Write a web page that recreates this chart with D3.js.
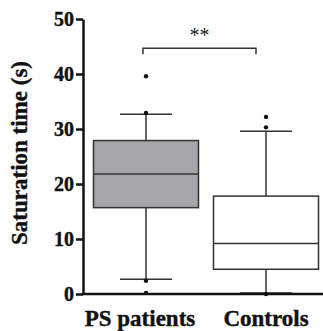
<!DOCTYPE html>
<html>
<head>
<meta charset="utf-8">
<script src="https://cdn.jsdelivr.net/npm/d3@7"></script>
<style>
  body { margin: 0; background: #fff; }
  svg { display: block; }
</style>
</head>
<body>
<div id="chart"></div>
<script>
// data
const groups = ["PS patients", "Controls"];
const whiskerLow = [2.7, 0.2];
const q1 = [15.7, 4.5];
const median = [21.8, 9.2];
const q3 = [27.9, 17.8];
const whiskerHigh = [32.7, 29.6];
const outliers = [[39.6, 32.9, 2.4, 0.2], [32.2, 30.3, 0]];
const boxFills = ["#a6a6aa", "#ffffff"];
const yTicks = [0, 10, 20, 30, 40, 50];
const sigLevel = 44.7;
const sigLabel = "**";

const serif = "'Liberation Serif', 'Times New Roman', 'DejaVu Serif', serif";

const W = 323, H = 331;
const margin = { top: 19, right: 0, bottom: 37, left: 83 };
const width = W - margin.left - margin.right;
const height = H - margin.top - margin.bottom;

const svg = d3.select("#chart").append("svg")
    .attr("width", W)
    .attr("height", H)
    .append("g")
    .attr("transform", "translate(" + margin.left + "," + margin.top + ")");

const y = d3.scaleLinear().domain([0, 50]).range([height, 0]);
const x = d3.scaleBand()
    .domain(groups)
    .range([3, 243])
    .paddingInner(0.125)
    .paddingOuter(0.0625);

const boxes = groups.map((g, i) => ({
    name: g, lo: whiskerLow[i], q1: q1[i], med: median[i], q3: q3[i], hi: whiskerHigh[i],
    out: outliers[i], fill: boxFills[i]
}));

const capW = 52;
const stroke = "#333";

const grp = svg.selectAll(".box")
    .data(boxes)
    .enter().append("g")
    .attr("class", "box");

// whiskers
grp.append("line")
    .attr("x1", d => x(d.name) + x.bandwidth() / 2)
    .attr("x2", d => x(d.name) + x.bandwidth() / 2)
    .attr("y1", d => y(d.lo))
    .attr("y2", d => y(d.hi))
    .attr("stroke", stroke)
    .attr("stroke-width", 1.5);

grp.selectAll(".cap")
    .data(d => [d.lo, d.hi].map(v => ({ name: d.name, v: v })))
    .enter().append("line")
    .attr("class", "cap")
    .attr("x1", d => x(d.name) + x.bandwidth() / 2 - capW / 2)
    .attr("x2", d => x(d.name) + x.bandwidth() / 2 + capW / 2)
    .attr("y1", d => y(d.v))
    .attr("y2", d => y(d.v))
    .attr("stroke", stroke)
    .attr("stroke-width", 1.5);

// box
grp.append("rect")
    .attr("x", d => x(d.name))
    .attr("width", x.bandwidth())
    .attr("y", d => y(d.q3))
    .attr("height", d => y(d.q1) - y(d.q3))
    .attr("fill", d => d.fill)
    .attr("stroke", stroke)
    .attr("stroke-width", 1.5);

grp.append("line")
    .attr("x1", d => x(d.name))
    .attr("x2", d => x(d.name) + x.bandwidth())
    .attr("y1", d => y(d.med))
    .attr("y2", d => y(d.med))
    .attr("stroke", stroke)
    .attr("stroke-width", 1.5);

// outliers
grp.selectAll(".dot")
    .data(d => d.out.map(v => ({ name: d.name, v: v })))
    .enter().append("circle")
    .attr("class", "dot")
    .attr("cx", d => x(d.name) + x.bandwidth() / 2)
    .attr("cy", d => y(d.v))
    .attr("r", 2.2)
    .attr("fill", "#111");

// significance bracket
const bx1 = x(groups[0]) + x.bandwidth() / 2 - 3;
const bx2 = x(groups[1]) + x.bandwidth() / 2 - 10;
svg.append("path")
    .attr("d", "M" + bx1 + "," + y(sigLevel - 1.1) + "V" + y(sigLevel) + "H" + bx2 + "V" + y(sigLevel - 1.1))
    .attr("fill", "none")
    .attr("stroke", stroke)
    .attr("stroke-width", 1.5);

svg.append("text")
    .attr("x", (bx1 + bx2) / 2)
    .attr("y", y(sigLevel) - 6)
    .attr("text-anchor", "middle")
    .style("font-family", serif)
    .style("font-size", "20px")
    .attr("fill", "#222")
    .text(sigLabel);

// axes
const yAxis = svg.append("g")
    .call(d3.axisLeft(y).tickValues(yTicks).tickSize(7).tickPadding(2).tickSizeOuter(0));
yAxis.select(".domain").attr("stroke", "#111").attr("stroke-width", 2.5);
yAxis.selectAll(".tick line").attr("stroke", "#111").attr("stroke-width", 2.5);
yAxis.selectAll("text")
    .style("font-family", serif)
    .style("font-weight", "bold")
    .style("font-size", "20px")
    .attr("fill", "#111")
    .attr("stroke", "#111")
    .attr("stroke-width", 0.4);

const xAxis = svg.append("g")
    .attr("transform", "translate(0," + height + ")")
    .call(d3.axisBottom(x).tickSize(0).tickPadding(16).tickSizeOuter(0));
xAxis.select(".domain").attr("stroke", "#111").attr("stroke-width", 2.5)
    .attr("d", "M-1.25,0H" + width);
xAxis.selectAll("text")
    .style("font-family", serif)
    .style("font-weight", "bold")
    .style("font-size", "23px")
    .attr("fill", "#111")
    .attr("stroke", "#111")
    .attr("stroke-width", 0.4)
    .attr("dx", (d, i) => i === 0 ? -6 : 0);

// y title
svg.append("text")
    .attr("transform", "translate(" + (27 - margin.left) + "," + (153 - margin.top) + ") rotate(-90)")
    .attr("text-anchor", "middle")
    .style("font-family", serif)
    .style("font-weight", "bold")
    .style("font-size", "23px")
    .attr("fill", "#111")
    .attr("stroke", "#111")
    .attr("stroke-width", 0.4)
    .text("Saturation time (s)");
</script>
</body>
</html>
